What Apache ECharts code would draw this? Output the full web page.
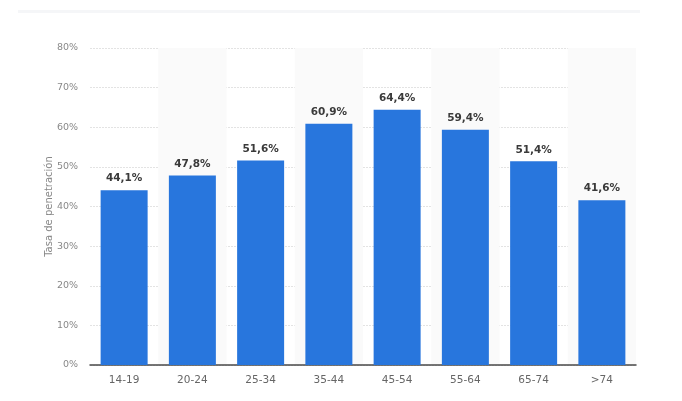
<!DOCTYPE html>
<html>
<head>
<meta charset="utf-8">
<script src="https://cdn.jsdelivr.net/npm/echarts@6/dist/echarts.min.js"></script>
<style>html,body{margin:0;padding:0;background:#fff}#c{width:682px;height:401px}</style>
</head>
<body>
<div id="c"></div>
<script>
const categories = ['14-19','20-24','25-34','35-44','45-54','55-64','65-74','>74'];
const values = [44.1, 47.8, 51.6, 60.9, 64.4, 59.4, 51.4, 41.6];
const yTicks = [0, 10, 20, 30, 40, 50, 60, 70, 80];
const yAxisName = 'Tasa de penetración';

const chart = echarts.init(document.getElementById('c'));
chart.setOption({
  backgroundColor: '#ffffff',
  animation: false,
  graphic: [{
    type: 'rect', left: 18, top: 10, shape: {width: 622, height: 3},
    style: {fill: '#f5f6f8'}, silent: true
  }],
  grid: {left: 90, right: 46, top: 48, bottom: 36},
  xAxis: {
    type: 'category',
    data: categories,
    axisLine: {show: true, lineStyle: {color: '#4a4a4a', width: 1.5}},
    axisTick: {show: false},
    axisLabel: {color: '#666', fontSize: 10.5, fontFamily: 'DejaVu Sans', margin: 10, letterSpacing: 1},
    splitArea: {show: true, areaStyle: {color: ['rgba(255,255,255,0)', '#fafafa']}},
    splitLine: {show: false}
  },
  yAxis: {
    type: 'value',
    min: yTicks[0], max: yTicks[yTicks.length - 1], interval: 10,
    name: yAxisName,
    nameLocation: 'middle',
    nameGap: 36,
    nameMoveOverlap: false,
    nameTextStyle: {color: '#888', fontSize: 10, fontFamily: 'DejaVu Sans'},
    axisLine: {show: false},
    axisTick: {show: false},
    axisLabel: {color: '#888', fontSize: 9.5, fontFamily: 'DejaVu Sans', margin: 12, formatter: '{value}%'},
    splitLine: {show: true, lineStyle: {color: '#e3e3e3', type: [2, 1], width: 1}}
  },
  series: [{
    type: 'bar',
    data: values,
    barWidth: 47,
    itemStyle: {color: '#2876dd'},
    label: {
      show: true, position: 'top', distance: 6,
      color: '#3a3a3a', fontSize: 10.5, fontWeight: 'bold', fontFamily: 'DejaVu Sans',
      formatter: p => p.value.toFixed(1).replace('.', ',') + '%'
    }
  }]
});
</script>
</body>
</html>
